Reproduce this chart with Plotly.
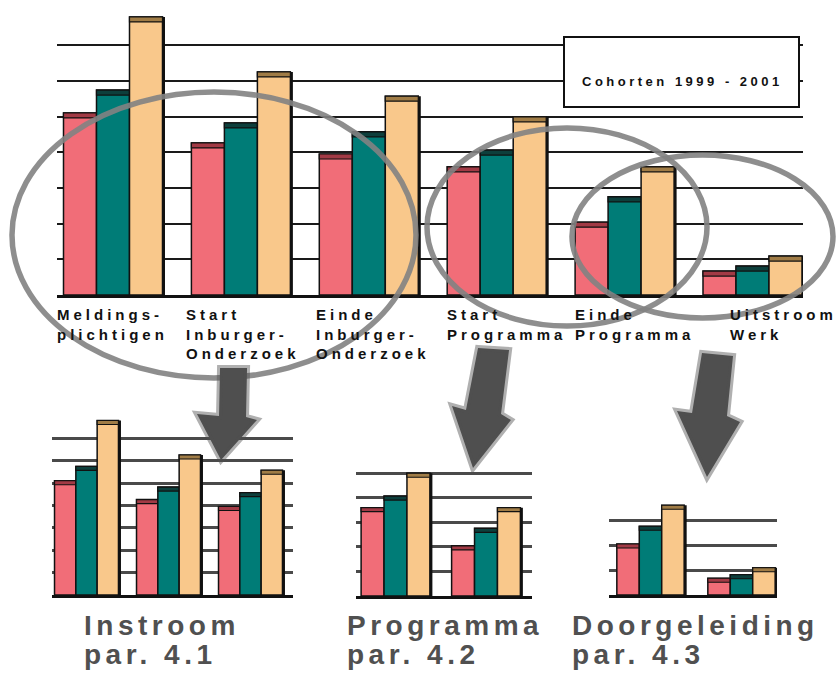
import plotly.graph_objects as go

#%% DATA

categories = [
    "Meldings-<br>plichtigen",
    "Start<br>Inburger-<br>Onderzoek",
    "Einde<br>Inburger-<br>Onderzoek",
    "Start<br>Programma",
    "Einde<br>Programma",
    "Uitstroom<br>Werk",
]
series_names = ["1999", "2000", "2001"]
cohort_1999 = [5.10, 4.26, 3.95, 3.59, 2.04, 0.67]
cohort_2000 = [5.74, 4.82, 4.57, 4.06, 2.75, 0.81]
cohort_2001 = [7.79, 6.25, 5.57, 4.99, 3.59, 1.09]

legend_title = "Cohorten 1999 - 2001"
panel_titles = ["Instroom", "Programma", "Doorgeleiding"]
panel_subtitles = ["par. 4.1", "par. 4.2", "par. 4.3"]
panel_slices = [(0, 3), (3, 5), (4, 6)]

#%% STYLE

W, H = 836, 675
FONT = "Liberation Sans"
bar_colors = ["#F16D78", "#007C77", "#F9C88B"]
cap_colors = ["#A23A45", "#0D3F3C", "#A07C46"]
series = [cohort_1999, cohort_2000, cohort_2001]


def px(x):
    return x / W


def py(y):
    return 1 - y / H


def spaced(text, ls):
    # plotly has no letter-spacing option, so put it on each line's span
    return "<br>".join(
        f"<span style='letter-spacing:{ls}px'>{line}</span>" for line in text.split("<br>")
    )


# main chart + 3 small charts: pixel geometry of each panel
panels = [
    dict(ax="", x0=57, x1=803, c0=113, step=127.9, base=295, unit=35.7, ymax=7.9,
         group=0.774, cap=5, grid="#1a1a1a", gw=2, idx=(0, 6)),
    dict(ax="2", x0=52, x1=293, c0=86.5, step=82, base=595, unit=22.4, ymax=7.95,
         group=0.78, cap=4, grid="#4a4a4a", gw=2.5, idx=panel_slices[0]),
    dict(ax="3", x0=356, x1=532, c0=395.5, step=90.5, base=596, unit=24.6, ymax=5.5,
         group=0.76, cap=4, grid="#4a4a4a", gw=2.5, idx=panel_slices[1]),
    dict(ax="4", x0=609, x1=777, c0=650.5, step=91, base=595, unit=25, ymax=3.9,
         group=0.74, cap=4, grid="#4a4a4a", gw=2.5, idx=panel_slices[2]),
]

fig = go.Figure()
layout = {}

for p in panels:
    i0, i1 = p["idx"]
    cats = categories[i0:i1]
    w = p["group"] / 3
    cap = p["cap"] / p["unit"]
    shadow = 2.5 / p["step"]
    axes = dict(xaxis="x" + p["ax"], yaxis="y" + p["ax"])
    # dark shadow on the right side of each bar
    for s in range(3):
        fig.add_trace(go.Bar(
            x=cats, y=series[s][i0:i1], width=w, offset=(s - 1.5) * w + shadow,
            marker=dict(color="#111111", line=dict(width=0)),
            showlegend=False, hoverinfo="skip", **axes,
        ))
    for s in range(3):
        vals = series[s][i0:i1]
        off = (s - 1.5) * w
        fig.add_trace(go.Bar(
            x=cats, y=vals, name=series_names[s], width=w, offset=off,
            marker=dict(color=bar_colors[s], line=dict(color="#111111", width=1.5)),
            showlegend=False, **axes,
        ))
        # darker lid on top of each bar
        fig.add_trace(go.Bar(
            x=cats, y=[cap] * len(vals), base=[v - cap for v in vals],
            width=w, offset=off,
            marker=dict(color=cap_colors[s], line=dict(color="#111111", width=1.2)),
            showlegend=False, hoverinfo="skip", **axes,
        ))

    top = p["base"] - p["ymax"] * p["unit"]
    layout["xaxis" + p["ax"]] = dict(
        domain=[px(p["x0"]), px(p["x1"])],
        range=[(p["x0"] - p["c0"]) / p["step"], (p["x1"] - p["c0"]) / p["step"]],
        anchor="y" + p["ax"], showticklabels=False, ticks="", showgrid=False,
        showline=True, linecolor="#111111", linewidth=2.5, zeroline=False,
    )
    layout["yaxis" + p["ax"]] = dict(
        domain=[py(p["base"]), py(top)], range=[0, p["ymax"]],
        anchor="x" + p["ax"], dtick=1, showticklabels=False, ticks="",
        showgrid=True, gridcolor=p["grid"], gridwidth=p["gw"], zeroline=False,
    )

fig.update_layout(**layout)

#%% SHAPES

shapes = []

# legend box covering the top gridlines
shapes.append(dict(type="rect", xref="paper", yref="paper",
                   x0=px(564), x1=px(799), y0=py(107), y1=py(37),
                   fillcolor="white", line=dict(color="#111111", width=2), layer="above"))

# grey ellipses around the category groups
for (x0, y0, x1, y1) in [(12, 92, 416, 378), (427, 128, 707, 326), (572, 155, 833, 318)]:
    shapes.append(dict(type="circle", xref="paper", yref="paper",
                       x0=px(x0), x1=px(x1), y0=py(y1), y1=py(y0),
                       line=dict(color="rgba(130,130,130,0.9)", width=5.5), layer="above"))

# block arrows pointing down to the small charts
arrows = [
    [(220, 368), (247, 368), (246, 417), (257, 420), (221, 460), (197, 414), (219, 416)],
    [(478, 348), (509, 350), (501, 414), (511, 420), (473, 468), (452, 406), (466, 410)],
    [(702, 353), (733, 356), (727, 416), (740, 422), (707, 477), (677, 411), (692, 413)],
]
for pts in arrows:
    path = "M " + " L ".join(f"{px(x):.4f},{py(y):.4f}" for x, y in pts) + " Z"
    shapes.append(dict(type="path", xref="paper", yref="paper", path=path,
                       fillcolor="#4f4f4f", line=dict(color="rgba(80,80,80,0.45)", width=6),
                       layer="above"))

#%% TEXT

annotations = []

label_shift = [-58, -57, -55, -52, -52, -25]
for i, cat in enumerate(categories):
    annotations.append(dict(
        x=i, y=py(304), xref="x", yref="paper", xanchor="left", yanchor="top",
        xshift=label_shift[i], align="left", showarrow=False,
        text=spaced(cat, 4),
        font=dict(family=FONT, size=15, color="#111111", weight="bold"),
    ))

annotations.append(dict(
    x=px(580), y=py(72), xref="paper", yref="paper", xanchor="left", align="left",
    showarrow=False, text=spaced(legend_title, 3.5),
    font=dict(family=FONT, size=13, color="#111111", weight="bold"),
))

for title, sub, x in zip(panel_titles, panel_subtitles, [82, 345, 570]):
    for txt, y in [(title, 625), (sub, 654)]:
        annotations.append(dict(
            x=px(x), y=py(y), xref="paper", yref="paper", xanchor="left", yanchor="middle",
            align="left", showarrow=False, text=spaced(txt, 4.5),
            font=dict(family=FONT, size=28, color="#505050", weight="bold"),
        ))

fig.update_layout(
    width=W, height=H,
    margin=dict(l=0, r=0, t=0, b=0),
    barmode="overlay",
    paper_bgcolor="white", plot_bgcolor="white",
    shapes=shapes, annotations=annotations,
    showlegend=False,
)

# page body has a default 8px margin; drop it so the figure sits at 0,0
fig.write_html("out.html", config={"displayModeBar": False},
               post_script="document.body.style.margin='0px';")
